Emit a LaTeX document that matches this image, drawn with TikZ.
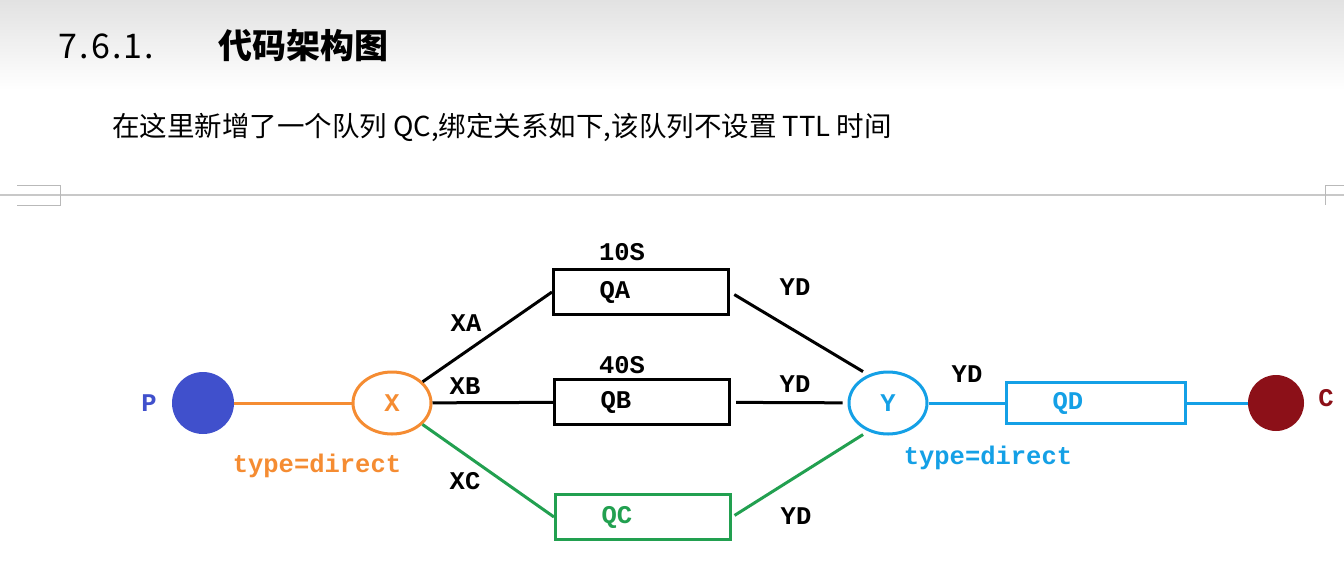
\documentclass[tikz,border=0pt]{standalone}
\usepackage{fontspec}
\newfontfamily\cjk{Noto Sans CJK SC}
\newfontfamily\mono{Liberation Mono}
\usetikzlibrary{shapes.geometric}
\definecolor{pblue}{RGB}{64,80,204}
\definecolor{xorange}{RGB}{245,140,50}
\definecolor{qgreen}{RGB}{34,160,80}
\definecolor{yblue}{RGB}{20,160,230}
\definecolor{cred}{RGB}{140,16,24}
\definecolor{rulegray}{RGB}{200,200,200}
\definecolor{markgray}{RGB}{185,185,185}
\definecolor{headgray}{RGB}{226,226,226}
\newcommand\mcell[1]{\makebox[16.25pt][c]{#1}}
\begin{document}
\begin{tikzpicture}[x=1pt,y=-1pt,
  lbl/.style={font=\mono\bfseries\fontsize{25.5}{25.5}\selectfont, inner sep=0pt},
  queue/.style={draw, line width=3pt, minimum height=45pt, inner ysep=0pt, inner xsep=46pt, align=left, font=\mono\bfseries\fontsize{25.5}{25.5}\selectfont},
  exch/.style={ellipse, draw, line width=3pt, minimum width=78pt, minimum height=62pt, inner sep=0pt, font=\mono\bfseries\fontsize{25.5}{25.5}\selectfont},
  conn/.style={line width=3pt}]
\useasboundingbox (0,0) rectangle (1344,582);
\fill[white] (0,0) rectangle (1344,582);
\shade[top color=headgray, bottom color=white] (0,0) rectangle (1344,90);
% header
\node[anchor=base west, inner sep=0pt, font=\cjk\fontsize{34}{34}\selectfont] (num) at (60,58) {\mcell{7}\mcell{.}\mcell{6}\mcell{.}\mcell{1}\mcell{.}};
\node[anchor=base west, inner sep=0pt, font=\cjk\bfseries\fontsize{34}{34}\selectfont] (title) at (218,58) {代码架构图};
\node[anchor=base west, inner sep=0pt, font=\cjk\fontsize{27.5}{27.5}\selectfont] (sub) at (112,136) {在这里新增了一个队列 QC,绑定关系如下,该队列不设置 TTL 时间};
% page rule and corner marks
\draw[rulegray, line width=2pt] (0,195) -- (1344,195);
\draw[markgray, line width=1pt] (17,185) -- (60,185) -- (60,205) -- (17,205);
\draw[markgray, line width=1pt] (1344,185) -- (1325,185) -- (1325,205);
% nodes
\node[circle, fill=pblue, minimum size=62pt, inner sep=0pt] (P) at (203,403) {};
\node[lbl, text=pblue] (Plbl) at (149,403) {P};
\node[exch, draw=xorange, text=xorange] (X) at (392,403) {X};
\node[lbl, text=xorange] (xtype) at (317,466) {type=direct};
\node[queue, text width=83pt] (QA) at (641,292) {QA};
\node[queue, text width=83pt] (QB) at (642,402) {QB};
\node[queue, draw=qgreen, text=qgreen, text width=83pt] (QC) at (643,517) {QC};
\node[lbl] (t10) at (622,252) {10S};
\node[lbl] (t40) at (622,365) {40S};
\node[exch, draw=yblue, text=yblue] (Y) at (888,403) {Y};
\node[lbl, text=yblue] (ytype) at (988,458) {type=direct};
\node[queue, draw=yblue, text=yblue, minimum height=41pt, text width=87pt] (QD) at (1096,403) {QD};
\node[circle, fill=cred, minimum size=56pt, inner sep=0pt] (C) at (1276,403) {};
\node[lbl, text=cred] (Clbl) at (1326,398) {C};
% edge labels
\node[lbl] (xa) at (466,323) {XA};
\node[lbl] (xb) at (465,386) {XB};
\node[lbl] (xc) at (465,481) {XC};
\node[lbl] (yd1) at (795,287) {YD};
\node[lbl] (yd2) at (795,384) {YD};
\node[lbl] (yd3) at (796,516) {YD};
\node[lbl] (yd4) at (967,374) {YD};
% connectors
\draw[conn, xorange] (P) -- (X);
\draw[conn] (X) -- (QA.west);
\draw[conn] (X) -- (QB);
\draw[conn, qgreen] (X) -- (QC.west);
\draw[conn, shorten <=5pt, shorten >=6pt] (QA.east) -- (Y.125);
\draw[conn, shorten <=5pt, shorten >=5pt] (QB) -- (Y);
\draw[conn, qgreen, shorten <=3pt, shorten >=6pt] (QC.east) -- (Y.235);
\draw[conn, yblue] (Y) -- (QD);
\draw[conn, yblue] (QD) -- (C);
\end{tikzpicture}
\end{document}
